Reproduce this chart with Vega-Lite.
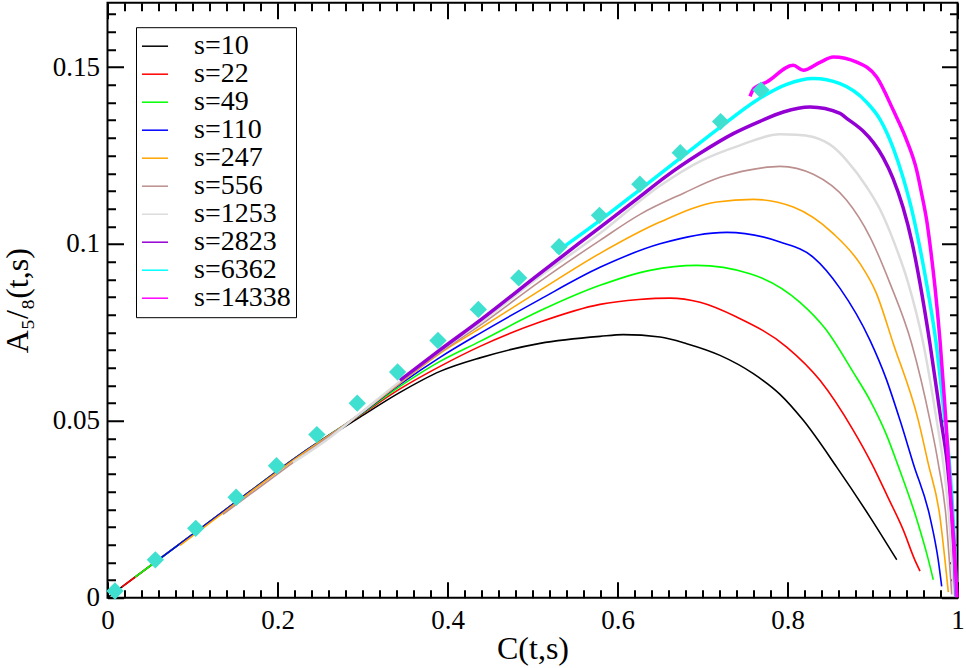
{
  "$schema": "https://vega.github.io/schema/vega-lite/v6.json",
  "width": 850,
  "height": 595,
  "autosize": {"type": "none"},
  "padding": {"left": 107.5, "top": 2.7, "right": 8.5, "bottom": 70.3},
  "background": "white",
  "datasets": {
    "curves": [
      {"s": 10, "C": 0, "A": 0}, {"s": 10, "C": 0.05, "A": 0.00896}, {"s": 10, "C": 0.1088, "A": 0.01948}, {"s": 10, "C": 0.1676, "A": 0.03003},
      {"s": 10, "C": 0.2265, "A": 0.04046}, {"s": 10, "C": 0.2618, "A": 0.04575}, {"s": 10, "C": 0.2971, "A": 0.05106}, {"s": 10, "C": 0.3441, "A": 0.05804},
      {"s": 10, "C": 0.3912, "A": 0.06398}, {"s": 10, "C": 0.4382, "A": 0.0678}, {"s": 10, "C": 0.5088, "A": 0.0719}, {"s": 10, "C": 0.5794, "A": 0.07388},
      {"s": 10, "C": 0.6068, "A": 0.07436}, {"s": 10, "C": 0.65, "A": 0.07368}, {"s": 10, "C": 0.6814, "A": 0.07181}, {"s": 10, "C": 0.7206, "A": 0.0685},
      {"s": 10, "C": 0.7598, "A": 0.06333}, {"s": 10, "C": 0.7912, "A": 0.05748}, {"s": 10, "C": 0.8186, "A": 0.05013}, {"s": 10, "C": 0.8579, "A": 0.03692},
      {"s": 10, "C": 0.8971, "A": 0.02279}, {"s": 10, "C": 0.9285, "A": 0.01074},

      {"s": 22, "C": 0.0167, "A": 0.003}, {"s": 22, "C": 0.05, "A": 0.00896}, {"s": 22, "C": 0.1088, "A": 0.01948}, {"s": 22, "C": 0.1676, "A": 0.03003},
      {"s": 22, "C": 0.2265, "A": 0.04046}, {"s": 22, "C": 0.2618, "A": 0.04603}, {"s": 22, "C": 0.2971, "A": 0.05154}, {"s": 22, "C": 0.3441, "A": 0.05903},
      {"s": 22, "C": 0.3912, "A": 0.0654}, {"s": 22, "C": 0.4382, "A": 0.07105}, {"s": 22, "C": 0.5088, "A": 0.07792}, {"s": 22, "C": 0.5794, "A": 0.08292},
      {"s": 22, "C": 0.6250, "A": 0.08430}, {"s": 22, "C": 0.6618, "A": 0.0847}, {"s": 22, "C": 0.6971, "A": 0.0835}, {"s": 22, "C": 0.7402, "A": 0.07933},
      {"s": 22, "C": 0.7991, "A": 0.07085}, {"s": 22, "C": 0.8382, "A": 0.06144}, {"s": 22, "C": 0.8774, "A": 0.0473}, {"s": 22, "C": 0.8991, "A": 0.03789},
      {"s": 22, "C": 0.9182, "A": 0.02836}, {"s": 22, "C": 0.9359, "A": 0.01931}, {"s": 22, "C": 0.95, "A": 0.01055}, {"s": 22, "C": 0.9559, "A": 0.00752},

      {"s": 49, "C": 0.0324, "A": 0.0058}, {"s": 49, "C": 0.05, "A": 0.00896}, {"s": 49, "C": 0.1088, "A": 0.01948}, {"s": 49, "C": 0.1676, "A": 0.03003},
      {"s": 49, "C": 0.2265, "A": 0.04046}, {"s": 49, "C": 0.2618, "A": 0.04617}, {"s": 49, "C": 0.2971, "A": 0.05168}, {"s": 49, "C": 0.3441, "A": 0.05974},
      {"s": 49, "C": 0.3912, "A": 0.06681}, {"s": 49, "C": 0.4382, "A": 0.07246}, {"s": 49, "C": 0.5088, "A": 0.08109}, {"s": 49, "C": 0.5794, "A": 0.0883},
      {"s": 49, "C": 0.6382, "A": 0.09254}, {"s": 49, "C": 0.6932, "A": 0.09395}, {"s": 49, "C": 0.7559, "A": 0.0916}, {"s": 49, "C": 0.8147, "A": 0.08349},
      {"s": 49, "C": 0.8441, "A": 0.07614}, {"s": 49, "C": 0.8774, "A": 0.0637}, {"s": 49, "C": 0.8971, "A": 0.05578}, {"s": 49, "C": 0.9167, "A": 0.04589},
      {"s": 49, "C": 0.93, "A": 0.0374}, {"s": 49, "C": 0.9512, "A": 0.02279}, {"s": 49, "C": 0.9653, "A": 0.01111}, {"s": 49, "C": 0.9715, "A": 0.00509},

      {"s": 110, "C": 0.0618, "A": 0.01106}, {"s": 110, "C": 0.1088, "A": 0.01948}, {"s": 110, "C": 0.1676, "A": 0.03003}, {"s": 110, "C": 0.2265, "A": 0.04046},
      {"s": 110, "C": 0.2971, "A": 0.05182}, {"s": 110, "C": 0.3441, "A": 0.06031}, {"s": 110, "C": 0.3912, "A": 0.06794}, {"s": 110, "C": 0.4382, "A": 0.07473},
      {"s": 110, "C": 0.5088, "A": 0.08434}, {"s": 110, "C": 0.5794, "A": 0.09339}, {"s": 110, "C": 0.65, "A": 0.10003}, {"s": 110, "C": 0.7285, "A": 0.10328},
      {"s": 110, "C": 0.7912, "A": 0.10054}, {"s": 110, "C": 0.8304, "A": 0.09621}, {"s": 110, "C": 0.8618, "A": 0.08745}, {"s": 110, "C": 0.8971, "A": 0.07275},
      {"s": 110, "C": 0.9159, "A": 0.062}, {"s": 110, "C": 0.9324, "A": 0.05013}, {"s": 110, "C": 0.948, "A": 0.03789}, {"s": 110, "C": 0.9676, "A": 0.02279},
      {"s": 110, "C": 0.9774, "A": 0.01055}, {"s": 110, "C": 0.9814, "A": 0.0032},

      {"s": 247, "C": 0.0853, "A": 0.01479}, {"s": 247, "C": 0.1088, "A": 0.01903}, {"s": 247, "C": 0.1676, "A": 0.02977}, {"s": 247, "C": 0.2265, "A": 0.04023},
      {"s": 247, "C": 0.2971, "A": 0.05197}, {"s": 247, "C": 0.3441, "A": 0.06059}, {"s": 247, "C": 0.3912, "A": 0.06907}, {"s": 247, "C": 0.4382, "A": 0.07614},
      {"s": 247, "C": 0.5088, "A": 0.08688}, {"s": 247, "C": 0.5794, "A": 0.09734}, {"s": 247, "C": 0.65, "A": 0.10619}, {"s": 247, "C": 0.7167, "A": 0.11185},
      {"s": 247, "C": 0.7598, "A": 0.11261}, {"s": 247, "C": 0.8068, "A": 0.11043}, {"s": 247, "C": 0.8539, "A": 0.10291}, {"s": 247, "C": 0.8853, "A": 0.09443},
      {"s": 247, "C": 0.9041, "A": 0.08632}, {"s": 247, "C": 0.9245, "A": 0.07181}, {"s": 247, "C": 0.9539, "A": 0.05013}, {"s": 247, "C": 0.9656, "A": 0.03789},
      {"s": 247, "C": 0.9794, "A": 0.02279}, {"s": 247, "C": 0.9853, "A": 0.01055}, {"s": 247, "C": 0.9892, "A": 0.00158},

      {"s": 556, "C": 0.1359, "A": 0.02355}, {"s": 556, "C": 0.1676, "A": 0.02921}, {"s": 556, "C": 0.2265, "A": 0.03967}, {"s": 556, "C": 0.2971, "A": 0.05211},
      {"s": 556, "C": 0.3441, "A": 0.06087}, {"s": 556, "C": 0.3912, "A": 0.06935}, {"s": 556, "C": 0.4382, "A": 0.07699}, {"s": 556, "C": 0.5088, "A": 0.08943},
      {"s": 556, "C": 0.5794, "A": 0.10102}, {"s": 556, "C": 0.6265, "A": 0.10837}, {"s": 556, "C": 0.6771, "A": 0.11428}, {"s": 556, "C": 0.7206, "A": 0.11883},
      {"s": 556, "C": 0.7559, "A": 0.12095}, {"s": 556, "C": 0.7912, "A": 0.12194}, {"s": 556, "C": 0.8304, "A": 0.11968}, {"s": 556, "C": 0.8696, "A": 0.11233},
      {"s": 556, "C": 0.8971, "A": 0.10195}, {"s": 556, "C": 0.9206, "A": 0.08886}, {"s": 556, "C": 0.9461, "A": 0.07181}, {"s": 556, "C": 0.9676, "A": 0.05013},
      {"s": 556, "C": 0.9774, "A": 0.03789}, {"s": 556, "C": 0.9865, "A": 0.02279}, {"s": 556, "C": 0.9904, "A": 0.01055}, {"s": 556, "C": 0.9932, "A": 0.00093},

      {"s": 1253, "C": 0.2182, "A": 0.03825}, {"s": 1253, "C": 0.2618, "A": 0.04532}, {"s": 1253, "C": 0.2971, "A": 0.05211}, {"s": 1253, "C": 0.3441, "A": 0.06115},
      {"s": 1253, "C": 0.3912, "A": 0.06978}, {"s": 1253, "C": 0.4382, "A": 0.0777}, {"s": 1253, "C": 0.5088, "A": 0.09084}, {"s": 1253, "C": 0.5794, "A": 0.103},
      {"s": 1253, "C": 0.65, "A": 0.11644}, {"s": 1253, "C": 0.6971, "A": 0.12335}, {"s": 1253, "C": 0.7441, "A": 0.12788}, {"s": 1253, "C": 0.7912, "A": 0.13099},
      {"s": 1253, "C": 0.8108, "A": 0.1309}, {"s": 1253, "C": 0.8304, "A": 0.13023}, {"s": 1253, "C": 0.8539, "A": 0.1274}, {"s": 1253, "C": 0.8696, "A": 0.12364},
      {"s": 1253, "C": 0.8932, "A": 0.1161}, {"s": 1253, "C": 0.9088, "A": 0.1098}, {"s": 1253, "C": 0.9245, "A": 0.10102},
      {"s": 1253, "C": 0.9421, "A": 0.08886}, {"s": 1253, "C": 0.9598, "A": 0.07181}, {"s": 1253, "C": 0.9755, "A": 0.05013}, {"s": 1253, "C": 0.9833, "A": 0.03789},
      {"s": 1253, "C": 0.99, "A": 0.02279}, {"s": 1253, "C": 0.9935, "A": 0.01055}, {"s": 1253, "C": 0.9959, "A": 0.00065},

      {"s": 2823, "C": 0.3441, "A": 0.06144}, {"s": 2823, "C": 0.3912, "A": 0.07006}, {"s": 2823, "C": 0.4382, "A": 0.0784}, {"s": 2823, "C": 0.5088, "A": 0.09169},
      {"s": 2823, "C": 0.5794, "A": 0.1047}, {"s": 2823, "C": 0.6253, "A": 0.11317}, {"s": 2823, "C": 0.6579, "A": 0.11925}, {"s": 2823, "C": 0.6971, "A": 0.12562},
      {"s": 2823, "C": 0.7362, "A": 0.13118}, {"s": 2823, "C": 0.7676, "A": 0.13466}, {"s": 2823, "C": 0.7951, "A": 0.13729}, {"s": 2823, "C": 0.8265, "A": 0.1387},
      {"s": 2823, "C": 0.8618, "A": 0.13692}, {"s": 2823, "C": 0.8696, "A": 0.13551}, {"s": 2823, "C": 0.8892, "A": 0.13183}, {"s": 2823, "C": 0.9009, "A": 0.12872},
      {"s": 2823, "C": 0.9124, "A": 0.12448}, {"s": 2823, "C": 0.9241, "A": 0.11855}, {"s": 2823, "C": 0.9359, "A": 0.11035}, {"s": 2823, "C": 0.9465, "A": 0.10045},
      {"s": 2823, "C": 0.9559, "A": 0.08886}, {"s": 2823, "C": 0.9676, "A": 0.07181}, {"s": 2823, "C": 0.9806, "A": 0.05013},
      {"s": 2823, "C": 0.988, "A": 0.03789}, {"s": 2823, "C": 0.9935, "A": 0.02279}, {"s": 2823, "C": 0.9965, "A": 0.01055}, {"s": 2823, "C": 0.9982, "A": 0.00037},

      {"s": 6362, "C": 0.5276, "A": 0.09763}, {"s": 6362, "C": 0.5794, "A": 0.10667}, {"s": 6362, "C": 0.6253, "A": 0.11516}, {"s": 6362, "C": 0.6735, "A": 0.1242},
      {"s": 6362, "C": 0.7206, "A": 0.13297}, {"s": 6362, "C": 0.7629, "A": 0.14050}, {"s": 6362, "C": 0.7991, "A": 0.14512}, {"s": 6362, "C": 0.8304, "A": 0.14674},
      {"s": 6362, "C": 0.8618, "A": 0.14532}, {"s": 6362, "C": 0.8932, "A": 0.14003}, {"s": 6362, "C": 0.9088, "A": 0.13523}, {"s": 6362, "C": 0.9245, "A": 0.12703},
      {"s": 6362, "C": 0.9362, "A": 0.11855}, {"s": 6362, "C": 0.948, "A": 0.1078}, {"s": 6362, "C": 0.9559, "A": 0.09876}, {"s": 6362, "C": 0.9638, "A": 0.08858},
      {"s": 6362, "C": 0.9744, "A": 0.07275}, {"s": 6362, "C": 0.9841, "A": 0.05239}, {"s": 6362, "C": 0.9904, "A": 0.03825}, {"s": 6362, "C": 0.9947, "A": 0.02327},
      {"s": 6362, "C": 0.9971, "A": 0.01111}, {"s": 6362, "C": 0.9986, "A": 0.00037},

      {"s": 14338, "C": 0.7559, "A": 0.14173}, {"s": 14338, "C": 0.7606, "A": 0.14399}, {"s": 14338, "C": 0.7755, "A": 0.14577}, {"s": 14338, "C": 0.8068, "A": 0.1505},
      {"s": 14338, "C": 0.8186, "A": 0.14908}, {"s": 14338, "C": 0.8382, "A": 0.15134}, {"s": 14338, "C": 0.8539, "A": 0.15284}, {"s": 14338, "C": 0.8814, "A": 0.15143},
      {"s": 14338, "C": 0.9049, "A": 0.14719}, {"s": 14338, "C": 0.9245, "A": 0.13777}, {"s": 14338, "C": 0.9402, "A": 0.12929}, {"s": 14338, "C": 0.952, "A": 0.12081},
      {"s": 14338, "C": 0.9582, "A": 0.11374}, {"s": 14338, "C": 0.9641, "A": 0.10611}, {"s": 14338, "C": 0.9688, "A": 0.09763}, {"s": 14338, "C": 0.9735, "A": 0.08782},
      {"s": 14338, "C": 0.9794, "A": 0.07275}, {"s": 14338, "C": 0.9847, "A": 0.05578}, {"s": 14338, "C": 0.9894, "A": 0.03881}, {"s": 14338, "C": 0.9935, "A": 0.02324},
      {"s": 14338, "C": 0.9971, "A": 0.01055}, {"s": 14338, "C": 0.9994, "A": 0.00008}
    ],
    "theory": [
      {"C": 0.0088, "A": 0.0019}, {"C": 0.0563, "A": 0.0107}, {"C": 0.1038, "A": 0.0196}, {"C": 0.1513, "A": 0.0284},
      {"C": 0.1988, "A": 0.0373}, {"C": 0.2463, "A": 0.0461}, {"C": 0.2938, "A": 0.055}, {"C": 0.3413, "A": 0.0638},
      {"C": 0.3888, "A": 0.0727}, {"C": 0.4363, "A": 0.0815}, {"C": 0.4838, "A": 0.0904}, {"C": 0.5313, "A": 0.0992},
      {"C": 0.5788, "A": 0.1081}, {"C": 0.6263, "A": 0.1169}, {"C": 0.6738, "A": 0.1258}, {"C": 0.7213, "A": 0.1346},
      {"C": 0.7688, "A": 0.1435}
    ]
  },
  "layer": [
    {
      "data": {"name": "curves"},
      "mark": {"type": "line", "interpolate": "monotone"},
      "encoding": {
        "x": {
          "field": "C", "type": "quantitative",
          "scale": {"domain": [0, 1], "nice": false, "zero": false},
          "axis": {
            "orient": "bottom",
            "values": [0, 0.2, 0.4, 0.6, 0.8, 1],
            "format": "~g",
            "ticks": false, "domain": false,
            "grid": true, "gridDash": [16, 563, 16, 1000],
            "labelPadding": 10,
            "title": "C(t,s)",
            "titleFontSize": 32,
            "titlePadding": 0
          }
        },
        "y": {
          "field": "A", "type": "quantitative",
          "scale": {"domain": [0, 0.1682], "nice": false},
          "axis": {
            "orient": "left",
            "values": [0, 0.05, 0.1, 0.15],
            "format": "~g",
            "ticks": false, "domain": false,
            "grid": true, "gridDash": [16, 818, 16, 1000],
            "labelPadding": 8,
            "title": "A₅/₈(t,s)",
            "titleFontSize": 32,
            "titlePadding": 18
          }
        },
        "color": {
          "field": "s", "type": "ordinal",
          "scale": {
            "domain": [10, 22, 49, 110, 247, 556, 1253, 2823, 6362, 14338],
            "range": ["#000000", "#ff0000", "#00ff00", "#0000ff", "#ffa500", "#bc8f8f", "#dcdcdc", "#9400d3", "#00ffff", "#ff00ff"]
          },
          "legend": {
            "orient": "none", "legendX": 28.5, "legendY": 24.5, "direction": "vertical",
            "title": null,
            "labelExpr": "'s=' + datum.label",
            "symbolType": "stroke", "symbolSize": 680, "symbolStrokeWidth": 1.5,
            "labelFont": "Liberation Serif", "labelFontSize": 28, "labelColor": "black", "labelOffset": 25,
            "rowPadding": 0, "padding": 5,
            "strokeColor": "black", "fillColor": "white"
          }
        },
        "strokeWidth": {
          "condition": [
            {"test": "datum.s >= 2823", "value": 3.5},
            {"test": "datum.s == 1253", "value": 2.5}
          ],
          "value": 1.6
        }
      }
    },
    {
      "data": {"name": "theory"},
      "mark": {"type": "point", "opacity": 0},
      "encoding": {
        "x": {
          "field": "C", "type": "quantitative",
          "scale": {"domain": [0, 1], "nice": false, "zero": false},
          "axis": {
            "orient": "bottom",
            "values": [0.02,0.04,0.06,0.08,0.1,0.12,0.14,0.16,0.18,0.22,0.24,0.26,0.28,0.3,0.32,0.34,0.36,0.38,0.42,0.44,0.46,0.48,0.5,0.52,0.54,0.56,0.58,0.62,0.64,0.66,0.68,0.7,0.72,0.74,0.76,0.78,0.82,0.84,0.86,0.88,0.9,0.92,0.94,0.96,0.98],
            "ticks": false, "labels": false, "domain": false, "title": null,
            "grid": true, "gridDash": [8, 579, 8, 1000]
          }
        },
        "y": {
          "field": "A", "type": "quantitative",
          "scale": {"domain": [0, 0.1682], "nice": false},
          "axis": {
            "orient": "left",
            "values": [0.005,0.01,0.015,0.02,0.025,0.03,0.035,0.04,0.045,0.055,0.06,0.065,0.07,0.075,0.08,0.085,0.09,0.095,0.105,0.11,0.115,0.12,0.125,0.13,0.135,0.14,0.145,0.155,0.16,0.165],
            "ticks": false, "labels": false, "domain": false, "title": null,
            "grid": true, "gridDash": [8, 834, 8, 1000]
          }
        }
      }
    },
    {
      "data": {"name": "theory"},
      "mark": {"type": "point", "shape": "diamond", "filled": true, "size": 300, "color": "#40e0d0", "opacity": 1},
      "encoding": {
        "x": {"field": "C", "type": "quantitative", "scale": {"domain": [0, 1], "nice": false, "zero": false}, "axis": null},
        "y": {"field": "A", "type": "quantitative", "scale": {"domain": [0, 0.1682], "nice": false}, "axis": null}
      }
    }
  ],
  "resolve": {"axis": {"x": "independent", "y": "independent"}},
  "config": {
    "view": {"stroke": "black", "strokeWidth": 2},
    "axis": {
      "gridColor": "black", "gridWidth": 2, "gridOpacity": 1,
      "labelFont": "Liberation Serif", "labelFontSize": 27, "labelColor": "black",
      "labelOverlap": false, "labelFlush": false, "labelBound": false,
      "titleFont": "Liberation Serif", "titleFontWeight": "normal", "titleColor": "black"
    }
  }
}
